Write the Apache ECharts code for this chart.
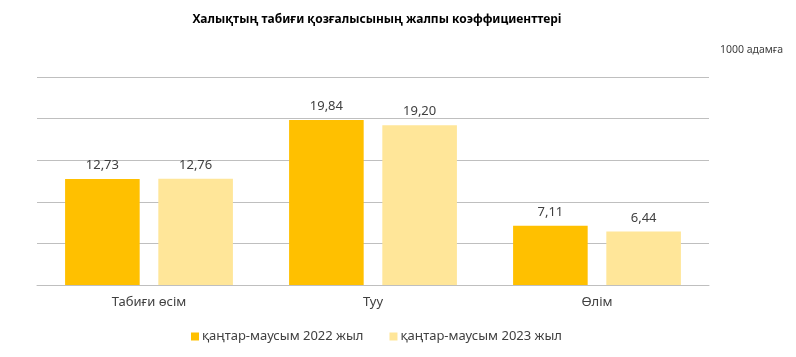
<!DOCTYPE html>
<html>
<head>
<meta charset="utf-8">
<script src="https://cdn.jsdelivr.net/npm/echarts@6/dist/echarts.min.js"></script>
<style>html,body{margin:0;padding:0;background:#fff}#c{width:796px;height:357px}</style>
</head>
<body>
<div id="c"></div>
<script>
const categories = ['Табиғи өсім', 'Туу', 'Өлім'];
const series2022 = [12.73, 19.84, 7.11];
const series2023 = [12.76, 19.20, 6.44];
const seriesNames = ['қаңтар-маусым 2022 жыл', 'қаңтар-маусым 2023 жыл'];
const titleText = 'Халықтың табиғи қозғалысының жалпы коэффициенттері';
const unitText = '1000 адамға';

const FONT = '"Noto Sans", "Open Sans", sans-serif';
const fmt = p => p.value.toFixed(2).replace('.', ',');
const chart = echarts.init(document.getElementById('c'), null, {renderer: 'canvas'});
chart.setOption({
  animation: false,
  backgroundColor: '#ffffff',
  title: [
    {text: titleText, left: 372, top: 9, textAlign: 'center',
     textStyle: {fontFamily: FONT, fontSize: 12, fontWeight: 'bold', color: '#000'}},
    {text: unitText, left: 715, top: 40,
     textStyle: {fontFamily: FONT, fontSize: 10.5, fontWeight: 'normal', color: '#404040'}}
  ],
  legend: {
    data: seriesNames,
    left: 186, top: 325,
    icon: 'rect', itemWidth: 8, itemHeight: 8, itemGap: 26,
    textStyle: {fontFamily: FONT, fontSize: 13, color: '#404040', padding: [0,0,0,-2]}
  },
  grid: {left: 37, right: 87, top: 77, bottom: 72, containLabel: false},
  xAxis: {
    type: 'category', data: categories,
    axisLine: {show: true, lineStyle: {color: '#bfbfbf', width: 1}},
    axisTick: {show: false},
    axisLabel: {fontFamily: FONT, fontSize: 13, color: '#404040', margin: 11}
  },
  yAxis: {
    type: 'value', min: 0, max: 25, interval: 5,
    axisLabel: {show: false}, axisLine: {show: false}, axisTick: {show: false},
    splitLine: {lineStyle: {color: '#bfbfbf', width: 1}}
  },
  series: [
    {name: seriesNames[0], type: 'bar', data: series2022, barWidth: '33.3%', barGap: '25%',
     itemStyle: {color: '#FFC000'},
     label: {show: true, position: 'top', distance: 7, formatter: fmt,
             fontFamily: FONT, fontSize: 13, color: '#404040'}},
    {name: seriesNames[1], type: 'bar', data: series2023, barWidth: '33.3%',
     itemStyle: {color: '#FFE699'},
     label: {show: true, position: 'top', distance: 7, formatter: fmt,
             fontFamily: FONT, fontSize: 13, color: '#404040'}}
  ]
});
</script>
</body>
</html>
